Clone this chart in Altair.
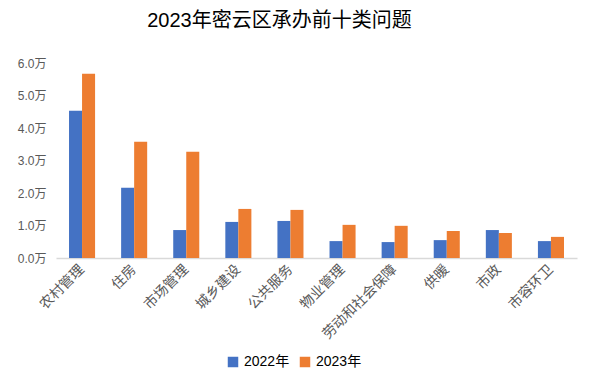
import altair as alt
import pandas as pd

categories = ["农村管理", "住房", "市场管理", "城乡建设", "公共服务", "物业管理", "劳动和社会保障", "供暖", "市政", "市容环卫"]
v2022 = [4.53, 2.16, 0.86, 1.11, 1.14, 0.52, 0.49, 0.55, 0.86, 0.52]
v2023 = [5.67, 3.58, 3.27, 1.51, 1.48, 1.02, 0.99, 0.83, 0.77, 0.65]
years = ["2022年", "2023年"]

rows = []
for c, a, b in zip(categories, v2022, v2023):
    rows.append({"cat": c, "year": years[0], "value": a})
    rows.append({"cat": c, "year": years[1], "value": b})
df = pd.DataFrame(rows)

font = "Liberation Sans, Noto Sans CJK SC, sans-serif"

chart = alt.Chart(df).mark_bar().encode(
    x=alt.X("cat:N", sort=categories, title=None,
            scale=alt.Scale(paddingInner=0.5, paddingOuter=0.25),
            axis=alt.Axis(labelAngle=-45, labelAlign="right", labelBaseline="middle",
                          labelFontSize=14, labelColor="#595959", labelFont=font,
                          domainColor="#d9d9d9", domainWidth=1.5, ticks=False, labelPadding=9)),
    xOffset=alt.XOffset("year:N", sort=years),
    y=alt.Y("value:Q", title=None, scale=alt.Scale(domain=[0, 6]),
            axis=alt.Axis(values=[0, 1, 2, 3, 4, 5, 6], labelExpr="format(datum.value, '.1f') + '万'",
                          labelFontSize=12, labelColor="#595959", labelFont=font,
                          domain=False, ticks=False, grid=False, labelPadding=10)),
    color=alt.Color("year:N", sort=years, title=None,
                    scale=alt.Scale(domain=years, range=["#4472C4", "#ED7D31"]),
                    legend=alt.Legend(orient="none", legendX=170, legendY=292, direction="horizontal",
                                      symbolType="square", symbolSize=110, symbolStrokeWidth=0,
                                      labelFontSize=14, labelFont=font, labelColor="#000000",
                                      columnPadding=8)),
).properties(
    width=521, height=195,
    title=alt.TitleParams("2023年密云区承办前十类问题", fontSize=20, fontWeight="normal",
                          font=font, color="#000000", anchor="middle", dx=-37, offset=26),
    padding={"left": 48, "top": 55, "right": 7, "bottom": 112},
    autosize="none",
).configure_view(stroke=None)

chart.save("out.html", embed_options={"renderer": "svg", "actions": False})
